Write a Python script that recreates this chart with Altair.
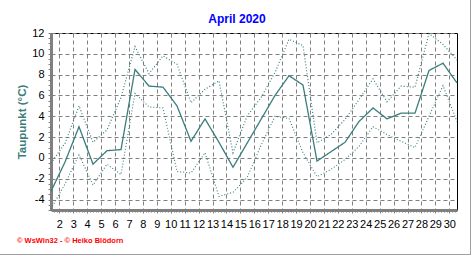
import altair as alt
import pandas as pd

days = list(range(1, 31))
mean_vals = [-3.2, -0.4, 3.0, -0.6, 0.7, 0.8, 8.5, 6.9, 6.8, 5.0,
             1.6, 3.75, 1.5, -0.9, 1.4, 3.7, 6.0, 7.9, 7.0, -0.3,
             0.6, 1.5, 3.5, 4.8, 3.75, 4.3, 4.3, 8.4, 9.1, 7.2]
max_vals = [-0.5, 1.4, 5.0, 1.5, 2.7, 5.8, 10.7, 8.1, 9.8, 9.0,
            5.3, 6.6, 7.4, 0.5, 4.0, 5.8, 8.2, 11.4, 10.8, 1.45,
            2.25, 3.7, 5.6, 7.6, 5.4, 6.9, 6.8, 11.95, 10.9, 9.4]
min_vals = [-4.9, -2.5, 0.3, -2.6, -0.6, -1.6, 6.2, 4.9, 4.8, -1.3,
            -1.45, 0.5, -3.7, -3.3, -1.9, 1.2, 4.0, 3.8, 0.5, -1.8,
            -1.1, -0.15, 1.1, 3.0, 2.25, 1.6, 1.0, 4.0, 6.95, 3.5]
series_names = ["mean", "max", "min"]

TITLE = "April 2020"
YTITLE = "Taupunkt  (°C)"
FOOTER = "© WsWin32  -  © Heiko Blödorn"

TEAL = "#3a7d7d"
GRID = "#808080"
FONT = "Liberation Sans"

rows = []
for name, vals in zip(series_names, [mean_vals, max_vals, min_vals]):
    for d, v in zip(days, vals):
        rows.append({"day": d, "value": v, "series": name})
df = pd.DataFrame(rows)

# x axis ticks: grid lines labelled 2..30, minor ticks 5 per interval
G0 = 1.593
S = 0.9949
xticks = []
for j in range(-10, 160):
    v = G0 + j * S / 5
    if 1 <= v <= 30:
        xticks.append(round(v, 4))
r = f"((datum.value-{G0})/{S})"
xmajor = f"abs({r} - round({r})) < 0.02"

xaxis = alt.Axis(
    values=xticks, title=None,
    labelExpr=f"({xmajor}) ? '' + (round({r}) + 2) : ''",
    grid=True, gridColor=GRID, gridDash=[4, 3], gridWidth=1,
    gridOpacity={"condition": {"test": xmajor, "value": 1}, "value": 0},
    tickSize={"condition": {"test": xmajor, "value": 3}, "value": 2},
    tickColor=GRID, tickWidth=1,
    domainColor=GRID, domainWidth=3,
    labelFont=FONT, labelFontSize=11, labelColor="black",
    labelPadding=5, labelFlush=False, labelOverlap=False,
)

yticks = [k / 2 for k in range(-10, 25)]
ymajor = "datum.value % 2 == 0"
yaxis = alt.Axis(
    values=yticks, title=YTITLE,
    labelExpr=f"({ymajor}) && datum.value > -5 ? '' + datum.value : ''",
    grid=True, gridColor=GRID, gridDash=[4, 3], gridWidth=1,
    gridOpacity={"condition": {"test": ymajor, "value": 1}, "value": 0},
    tickSize=3, tickColor=GRID, tickWidth=1,
    domainColor=GRID, domainWidth=3,
    labelFont=FONT, labelFontSize=11, labelColor="black",
    labelPadding=4, labelFlush=False, labelOverlap=False,
    titleFont=FONT, titleFontSize=11.5, titleFontWeight="bold",
    titleColor=TEAL, titleAngle=270, titleX=-29, titleY=88.5,
    titleAlign="center", titleBaseline="middle",
)

lines = alt.Chart(df).mark_line(color=TEAL).encode(
    x=alt.X("day:Q", scale=alt.Scale(domain=[1, 30], nice=False, zero=False), axis=xaxis),
    y=alt.Y("value:Q", scale=alt.Scale(domain=[-5, 12], nice=False, zero=False), axis=yaxis),
    strokeDash=alt.StrokeDash(
        "series:N",
        scale=alt.Scale(domain=series_names, range=[[1, 0], [1, 2], [1, 2]]),
        legend=None,
    ),
    strokeWidth=alt.StrokeWidth(
        "series:N",
        scale=alt.Scale(domain=series_names, range=[1.3, 1.1, 1.1]),
        legend=None,
    ),
    detail="series:N",
)

title = alt.Chart(pd.DataFrame({"t": [TITLE]})).mark_text(
    align="center", baseline="alphabetic", color="#0000ff", fontSize=12,
    fontWeight="bold", font=FONT,
).encode(x=alt.value(186), y=alt.value(-10), text="t:N")

footer = alt.Chart(pd.DataFrame({"t": [FOOTER]})).mark_text(
    align="left", baseline="middle", color="#ff0000", fontSize=7.5,
    fontWeight="bold", font=FONT,
).encode(x=alt.value(-34), y=alt.value(208), text="t:N")

frame_r = alt.Chart(pd.DataFrame({"a": [0]})).mark_rule(color="#a0a0a0", strokeWidth=1).encode(
    x=alt.value(419.5), y=alt.value(-33), y2=alt.value(222)
)
frame_b = alt.Chart(pd.DataFrame({"a": [0]})).mark_rule(color="#a0a0a0", strokeWidth=1).encode(
    x=alt.value(-51), x2=alt.value(420), y=alt.value(221.5)
)

chart = alt.layer(lines, title, footer, frame_r, frame_b).properties(
    width=406, height=177,
    autosize=alt.AutoSizeParams(type="none"),
    padding={"left": 51, "top": 33, "right": 15, "bottom": 45},
    background="white",
).configure_view(stroke="black", strokeWidth=1)

chart.save("out.html", embed_options={"renderer": "svg", "actions": False})
